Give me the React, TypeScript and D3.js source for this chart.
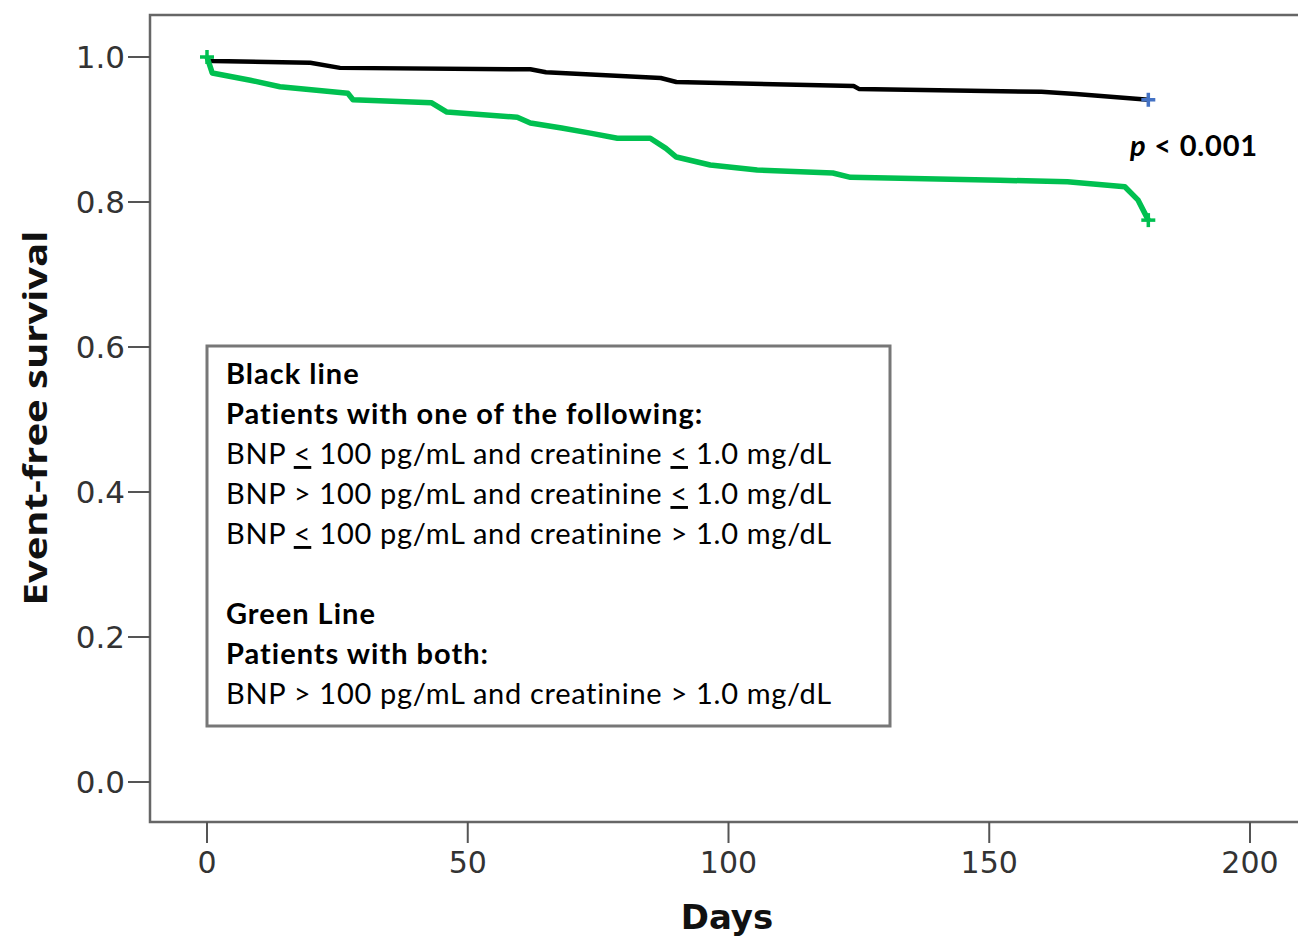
import React from "react";
import * as d3 from "d3";

const W = 1298;
const H = 936;

// Kaplan-Meier style curves (days, survival)
const blackDays = [0, 1.2, 19.8, 25.5, 62, 65, 87, 90, 124, 125, 160, 166.6, 180.5];
const blackSurv = [0.995, 0.9945, 0.992, 0.985, 0.983, 0.979, 0.971, 0.9655, 0.96, 0.956, 0.952, 0.949, 0.941];

const greenDays = [0, 1, 8.3, 14, 27, 28, 43, 46, 59.5, 62, 68, 73.5, 78.7, 85, 88, 90, 96.5, 105.5, 120, 123.4, 152, 165, 176, 178.5, 180.5];
const greenSurv = [1.0, 0.978, 0.968, 0.959, 0.95, 0.941, 0.937, 0.924, 0.917, 0.909, 0.902, 0.895, 0.888, 0.888, 0.874, 0.862, 0.851, 0.844, 0.84, 0.834, 0.83, 0.828, 0.821, 0.803, 0.775];

const xTicks = [0, 50, 100, 150, 200];
const yTicks = [0.0, 0.2, 0.4, 0.6, 0.8, 1.0];

const legendLines: { text: string; bold: boolean; underlineLt?: boolean }[] = [
  { text: "Black line", bold: true },
  { text: "Patients with one of the following:", bold: true },
  { text: "BNP < 100 pg/mL and creatinine < 1.0 mg/dL", bold: false, underlineLt: true },
  { text: "BNP > 100 pg/mL and creatinine < 1.0 mg/dL", bold: false, underlineLt: true },
  { text: "BNP < 100 pg/mL and creatinine > 1.0 mg/dL", bold: false, underlineLt: true },
  { text: "", bold: false },
  { text: "Green Line", bold: true },
  { text: "Patients with both:", bold: true },
  { text: "BNP > 100 pg/mL and creatinine > 1.0 mg/dL", bold: false },
];

const x = d3.scaleLinear().domain([0, 200]).range([207, 1250]);
const y = d3.scaleLinear().domain([0, 1]).range([782, 57]);

const FRAME = { left: 150, top: 15, bottom: 822 };

function Plus({ cx, cy, color }: { cx: number; cy: number; color: string }) {
  const s = 7;
  return (
    <g stroke={color} strokeWidth={3.5}>
      <line x1={cx - s} x2={cx + s} y1={cy} y2={cy} />
      <line x1={cx} x2={cx} y1={cy - s} y2={cy + s} />
    </g>
  );
}

function renderLegendText(t: string, underline: boolean) {
  if (!underline) return t;
  const parts = t.split("<");
  const out: React.ReactNode[] = [];
  parts.forEach((p, i) => {
    out.push(<tspan key={"p" + i}>{p}</tspan>);
    if (i < parts.length - 1) out.push(<tspan key={"u" + i} textDecoration="underline">{"<"}</tspan>);
  });
  return out;
}

export default function App() {
  const mk = (days: number[], surv: number[]) =>
    d3.line<[number, number]>().x((d) => x(d[0])).y((d) => y(d[1]))(days.map((d, i) => [d, surv[i]] as [number, number])) || "";

  const legendX = 207, legendY = 346, legendW = 683, legendH = 380;

  return (
    <svg width={W} height={H} style={{ position: "absolute", left: 0, top: 0, background: "#fff" }}>
      <rect x={0} y={0} width={W} height={H} fill="#fff" />
      {/* frame */}
      <path
        d={`M${W + 10},${FRAME.top} H${FRAME.left} V${FRAME.bottom} H${W + 10}`}
        fill="none"
        stroke="#666"
        strokeWidth={2.5}
      />
      {/* y ticks */}
      {yTicks.map((t) => (
        <g key={"y" + t}>
          <line x1={128} x2={FRAME.left} y1={y(t)} y2={y(t)} stroke="#555" strokeWidth={2} />
          <text x={125} y={y(t)} dy="0.35em" textAnchor="end" fontFamily="DejaVu Sans" fontSize={31} fill="#333">
            {t.toFixed(1)}
          </text>
        </g>
      ))}
      {/* x ticks */}
      {xTicks.map((t) => (
        <g key={"x" + t}>
          <line x1={x(t)} x2={x(t)} y1={FRAME.bottom} y2={843} stroke="#555" strokeWidth={2} />
          <text x={x(t)} y={873} textAnchor="middle" fontFamily="DejaVu Sans" fontSize={30} fill="#333">
            {t}
          </text>
        </g>
      ))}
      {/* axis titles */}
      <text x={727} y={929} textAnchor="middle" fontFamily="DejaVu Sans" fontWeight="bold" fontSize={34} fill="#111">
        Days
      </text>
      <text
        transform={`translate(47,418) rotate(-90)`}
        textAnchor="middle"
        fontFamily="Open Sans"
        fontWeight="bold"
        fontSize={33}
        fill="#111"
        textLength={375}
        lengthAdjust="spacingAndGlyphs"
      >
        Event-free survival
      </text>
      {/* curves */}
      <path d={mk(blackDays, blackSurv)} fill="none" stroke="#000" strokeWidth={4.5} strokeLinejoin="round" />
      <path d={mk(greenDays, greenSurv)} fill="none" stroke="#00c050" strokeWidth={5.5} strokeLinejoin="round" />
      <Plus cx={x(0)} cy={y(1)} color="#00c050" />
      <Plus cx={x(greenDays[greenDays.length - 1])} cy={y(greenSurv[greenSurv.length - 1])} color="#00c050" />
      <Plus cx={x(blackDays[blackDays.length - 1])} cy={y(blackSurv[blackSurv.length - 1])} color="#4472c4" />
      {/* p-value */}
      <text x={1130} y={156} fontFamily="Lato" fontWeight="bold" fontSize={29} letterSpacing={0.8} fill="#000">
        <tspan fontStyle="italic">p</tspan>
        <tspan> &lt; 0.001</tspan>
      </text>
      {/* legend */}
      <rect x={legendX} y={legendY} width={legendW} height={legendH} fill="#fff" stroke="#777" strokeWidth={3} />
      {legendLines.map((l, i) =>
        l.text ? (
          <text
            key={i}
            x={226}
            y={384 + i * 40}
            fontFamily="Lato"
            fontWeight={l.bold ? "bold" : "normal"}
            fontSize={29}
            letterSpacing={l.bold ? 1.0 : 0.7}
            fill="#000"
          >
            {renderLegendText(l.text, !!l.underlineLt)}
          </text>
        ) : null
      )}
    </svg>
  );
}
